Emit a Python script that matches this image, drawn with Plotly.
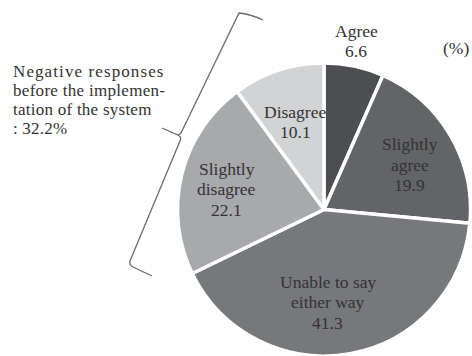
import math
import plotly.graph_objects as go

W, H = 472, 356

labels = ["Agree", "Slightly|agree", "Unable to say|either way", "Slightly|disagree", "Disagree"]
values = [6.6, 19.9, 41.3, 22.1, 10.1]
colors = ["#4d4e51", "#636467", "#77787c", "#a8a9ac", "#d2d3d5"]
# label placement (radius factor, angle nudge in degrees)
label_rf = [1.17, 0.66, 0.635, 0.68, 0.63]
label_nudge = [-1, 3, 8, -2, 0]

note_lines = ["Negative responses", "before the implemen-", "tation of the system", ": 32.2%"]
note_spacing = [1.1, 0.3, 0.25, 0.2]

# pie geometry in pixels
dom_x = [177 / W, 471 / W]
dom_y = [0.0, 1 - 63 / H]
cx = (dom_x[0] + dom_x[1]) / 2 * W
cy = H - (dom_y[0] + dom_y[1]) / 2 * H
R = min((dom_x[1] - dom_x[0]) * W, (dom_y[1] - dom_y[0]) * H) / 2

fig = go.Figure(go.Pie(
    values=values,
    labels=[l.replace("|", " ") for l in labels],
    sort=False,
    direction="clockwise",
    rotation=0,
    textinfo="none",
    hoverinfo="none",
    marker=dict(colors=colors, line=dict(color="white", width=3.5)),
    domain=dict(x=dom_x, y=dom_y),
    showlegend=False,
))

FONT = "Liberation Serif"
TXT = "#333333"
FS = 17.5
PITCH = 20.5

def px2paper(x, y):
    return x / W, 1 - y / H

annotations = []

def add_text(x, y, text, xanchor="center", size=FS):
    px, py = px2paper(x, y)
    annotations.append(dict(x=px, y=py, xref="paper", yref="paper", showarrow=False,
                            text=text, font=dict(family=FONT, size=size, color=TXT),
                            xanchor=xanchor, yanchor="middle", align=xanchor if xanchor != "center" else "center"))

total = sum(values)
cum = 0
for lab, v, rf, nd in zip(labels, values, label_rf, label_nudge):
    mid = (cum + v / 2) / total
    cum += v
    th = 2 * math.pi * mid + math.radians(nd)
    x = cx + rf * R * math.sin(th)
    y = cy - rf * R * math.cos(th)
    lines = lab.split("|") + [str(v)]
    n = len(lines)
    for k, ln in enumerate(lines):
        add_text(x, y + (k - (n - 1) / 2) * PITCH, ln)

add_text(456, 48, "(%)")

base_y = 71
for i, (line, ls) in enumerate(zip(note_lines, note_spacing)):
    add_text(11, base_y + i * 19, f'<span style="letter-spacing:{ls}px">{line}</span>',
             xanchor="left", size=17)

pts = "M263,20 Q250,14 239,13 L182,131 Q181,134 178,135 L162,128 M178,135 Q182,137 180,141 L130,261 Q129,265 133,267 L152,276"

def conv_path(p):
    res = []
    for tok in p.split(" "):
        cmd = ""
        if tok[0].isalpha():
            cmd = tok[0]
            tok = tok[1:]
        xs, ys = tok.split(",")
        xp, yp = px2paper(float(xs), float(ys))
        res.append(f"{cmd}{xp:.5f},{yp:.5f}")
    return " ".join(res)

shapes = [dict(type="path", xref="paper", yref="paper", path=conv_path(pts),
               line=dict(color="#6a6a6a", width=1.3))]

fig.update_layout(
    width=W, height=H,
    margin=dict(l=0, r=0, t=0, b=0),
    paper_bgcolor="white", plot_bgcolor="white",
    font=dict(family=FONT),
    annotations=annotations, shapes=shapes,
)
fig.write_html("out.html")
